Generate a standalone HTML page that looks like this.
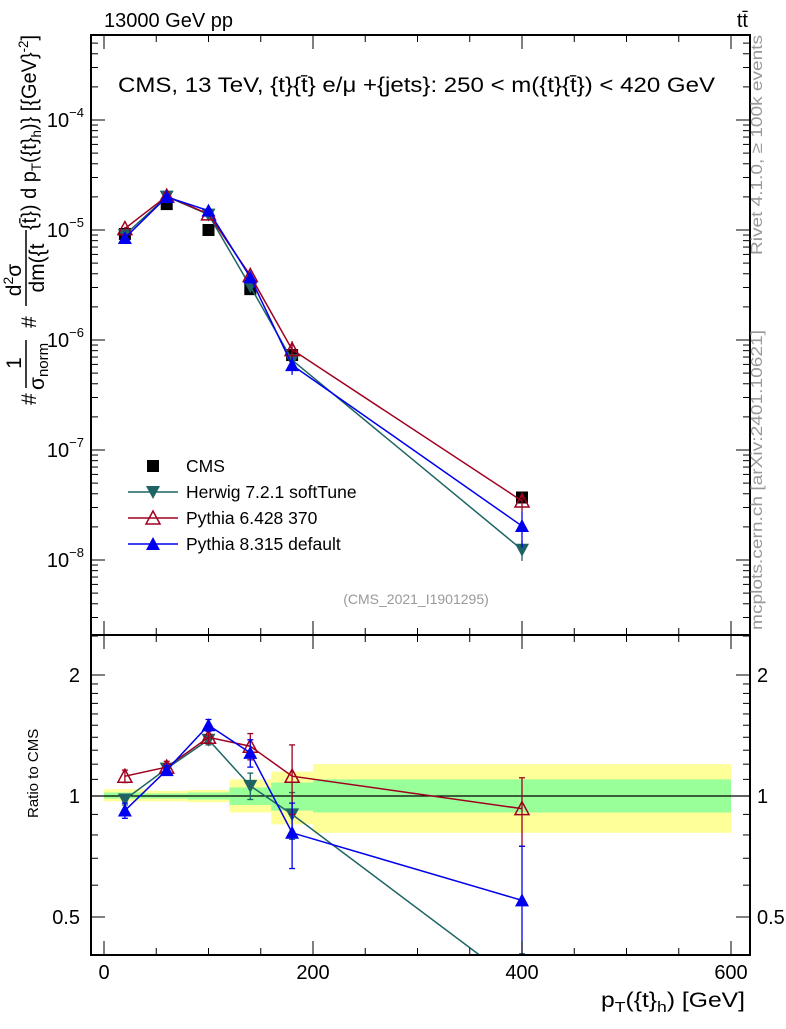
<!DOCTYPE html>
<html><head><meta charset="utf-8"><style>
body{margin:0;background:#fff;}
svg text{font-family:"Liberation Sans",sans-serif;}
</style></head><body>
<svg id="chart" width="786" height="1024" xmlns="http://www.w3.org/2000/svg">
<g id="bands"></g>
<g id="marks"></g>
<g id="axes"></g>
<text x="104" y="27" font-size="20">13000 GeV pp</text>
<text x="748" y="27" font-size="20" text-anchor="end">tt̄</text>
<text x="118" y="92" font-size="21" textLength="597" lengthAdjust="spacingAndGlyphs">CMS, 13 TeV, {t}{t̄} e/μ +{jets}: 250 &lt; m({t}{t̄}) &lt; 420 GeV</text>
<text x="416" y="604" font-size="14" fill="#999" text-anchor="middle">(CMS_2021_I1901295)</text>
<text transform="translate(762,255) rotate(-90)" font-size="16" fill="#999" textLength="220" lengthAdjust="spacingAndGlyphs">Rivet 4.1.0, ≥ 100k events</text>
<text transform="translate(762,630) rotate(-90)" font-size="16" fill="#999" textLength="300" lengthAdjust="spacingAndGlyphs">mcplots.cern.ch [arXiv:2401.10621]</text>
<g transform="rotate(-90)">
<text x="-405" y="36" font-size="21">#</text>
<text x="-363" y="21" font-size="21" text-anchor="middle">1</text>
<line x1="-388" x2="-340" y1="26" y2="26" stroke="#000" stroke-width="1.5"/>
<text x="-390" y="44" font-size="21">σ<tspan font-size="15" dy="4">norm</tspan></text>
<text x="-328" y="36" font-size="21">#</text>
<text x="-280" y="21" font-size="21" text-anchor="middle">d<tspan font-size="14" dy="-8">2</tspan><tspan dy="8">σ</tspan></text>
<line x1="-306" x2="-230" y1="26" y2="26" stroke="#000" stroke-width="1.5"/>
<text x="-268" y="44" font-size="21" text-anchor="middle">dm({t</text>
<text x="-230" y="36" font-size="21" textLength="195" lengthAdjust="spacingAndGlyphs">{t̄}) d p<tspan font-size="14" dy="5">T</tspan><tspan dy="-5">({t}</tspan><tspan font-size="14" dy="5">h</tspan><tspan dy="-5">)} [{GeV}</tspan><tspan font-size="14" dy="-8">-2</tspan><tspan dy="8">]</tspan></text>
</g>
<text transform="translate(38,818) rotate(-90)" font-size="15">Ratio to CMS</text>
<text x="601" y="1007" font-size="21" textLength="144" lengthAdjust="spacingAndGlyphs">p<tspan font-size="15" dy="5">T</tspan><tspan dy="-5">({t}</tspan><tspan font-size="15" dy="5">h</tspan><tspan dy="-5">) [GeV]</tspan></text>
<g id="legend"></g>
</svg>
<script>
const xVals=[20,60,100,140,180,400];
const binLo=[0,40,80,120,160,200];
const binHi=[40,80,120,160,200,600];
const cmsVals=[0.92e-5,1.72e-5,1.0e-5,2.9e-6,7.3e-7,3.7e-8];
const yelLo=[0.97,0.97,0.965,0.91,0.85,0.81];
const yelHi=[1.04,1.03,1.035,1.10,1.15,1.2];
const grnLo=[0.985,0.985,0.98,0.95,0.92,0.91];
const grnHi=[1.02,1.015,1.02,1.05,1.08,1.1];
const herwigRatio=[0.98,1.17,1.38,1.06,0.9,0.335];
const herwigErr=[0.03,0.03,0.04,0.08,0.12,0.07];
const py6Ratio=[1.12,1.18,1.4,1.33,1.12,0.93];
const py6Err=[0.04,0.04,0.05,0.1,0.22,0.18];
const py8Ratio=[0.92,1.16,1.5,1.28,0.81,0.55];
const py8Err=[0.04,0.03,0.05,0.1,0.15,0.2];
const majorX=[0,200,400,600];
const upperTicks=[-8,-7,-6,-5,-4];
const ratioTicks=[0.5,1,2];

const L=91,R=750,T=35,M=635,B=955;
const X=v=>104+v*1.045;
const YU=v=>230-110*Math.log10(v/1e-5);
const YR=r=>796-121*Math.log2(r);
const NS='http://www.w3.org/2000/svg';
function mk(p,tag,at){const e=document.createElementNS(NS,tag);for(const k in at)e.setAttribute(k,at[k]);p.appendChild(e);return e;}
const svg=document.getElementById('chart');
const bands=document.getElementById('bands'),marks=document.getElementById('marks'),axes=document.getElementById('axes'),leg=document.getElementById('legend');

for(let i=0;i<binLo.length;i++){
 const y=mk(bands,'rect',{x:X(binLo[i]),y:YR(yelHi[i]),width:X(binHi[i])-X(binLo[i]),height:YR(yelLo[i])-YR(yelHi[i]),fill:'#ffff99'});
 
 
 const g=mk(bands,'rect',{x:X(binLo[i]),y:YR(grnHi[i]),width:X(binHi[i])-X(binLo[i]),height:YR(grnLo[i])-YR(grnHi[i]),fill:'#99ff99'});
 
 
}
const one=mk(bands,'line',{x1:L,x2:R,y1:YR(1),y2:YR(1),stroke:'#000','stroke-width':1.3});



const defs=mk(svg,'defs',{});
const c1=mk(defs,'clipPath',{id:'cu'});mk(c1,'rect',{x:L,y:T,width:R-L,height:M-T});
const c2=mk(defs,'clipPath',{id:'cl'});mk(c2,'rect',{x:L,y:M,width:R-L,height:B-M});
const gu=mk(marks,'g',{'clip-path':'url(#cu)'}),gl=mk(marks,'g',{'clip-path':'url(#cl)'});

function marker(p,type,x,y,col){
 let e;
 if(type==='sq') e=mk(p,'rect',{x:x-6,y:y-6,width:12,height:12,fill:col});
 else if(type==='dn') e=mk(p,'polygon',{points:`${x-7},${y-6} ${x+7},${y-6} ${x},${y+7}`,fill:col});
 else if(type==='up') e=mk(p,'polygon',{points:`${x-7},${y+6} ${x+7},${y+6} ${x},${y-7}`,fill:col});
 else e=mk(p,'polygon',{points:`${x-7},${y+6} ${x+7},${y+6} ${x},${y-7}`,fill:'none',stroke:col,'stroke-width':1.5});
 return e;
}
function series(name,ratio,err,col,type){
 const pu=[],pl=[];
 for(let i=0;i<xVals.length;i++){
  const v=ratio[i]*cmsVals[i];
  pu.push(X(xVals[i])+','+YU(v));pl.push(X(xVals[i])+','+YR(ratio[i]));
 }
 const lu=mk(gu,'polyline',{points:pu.join(' '),fill:'none',stroke:col,'stroke-width':1.5});
 
 
 const ll=mk(gl,'polyline',{points:pl.join(' '),fill:'none',stroke:col,'stroke-width':1.5});
 
 
 for(let i=0;i<xVals.length;i++){
  const x=X(xVals[i]);
  const v=ratio[i]*cmsVals[i],e=err[i];
  const yu1=YU(v*(1+e/ratio[i])),yu2=YU(v*Math.max(0.05,1-e/ratio[i]));
  mk(gu,'line',{x1:x,x2:x,y1:yu1,y2:yu2,stroke:col,'stroke-width':1.3});
  const yl1=YR(ratio[i]+e),yl2=YR(Math.max(0.05,ratio[i]-e));
  mk(gl,'line',{x1:x,x2:x,y1:yl1,y2:yl2,stroke:col,'stroke-width':1.3});
  mk(gl,'line',{x1:x-3,x2:x+3,y1:yl1,y2:yl1,stroke:col,'stroke-width':1.3});
  mk(gl,'line',{x1:x-3,x2:x+3,y1:yl2,y2:yl2,stroke:col,'stroke-width':1.3});
  const m1=marker(gu,type,x,YU(v),col);
  
  
  const m2=marker(gl,type,x,YR(ratio[i]),col);
  
  
 }
}
for(let i=0;i<xVals.length;i++){
 const m=marker(gu,'sq',X(xVals[i]),YU(cmsVals[i]),'#000');
 
 
}
series('herwig',herwigRatio,herwigErr,'#1f6464','dn');
series('pythia6',py6Ratio,py6Err,'#a00020','op');
series('pythia8',py8Ratio,py8Err,'#0000ee','up');

[[T,M],[M,B]].forEach(([a,b])=>mk(axes,'rect',{x:L,y:a,width:R-L,height:b-a,fill:'none',stroke:'#000','stroke-width':2}));
for(let v=0;v<=600;v+=50){
 const x=X(v),maj=v%200===0;const len=maj?14:7;
 [[T,1],[M,-1],[M,1],[B,-1]].forEach(([y,d])=>mk(axes,'line',{x1:x,x2:x,y1:y,y2:y+d*len,stroke:'#000','stroke-width':1}));
}
majorX.forEach(v=>{const t=mk(axes,'text',{x:X(v),y:979,'font-size':20,'text-anchor':'middle'});t.textContent=v;
 
 });
for(let d=-9;d<=-4;d++){
 for(let k=1;k<10;k++){
  const y=YU(k*Math.pow(10,d));if(y<T||y>M)continue;
  const len=k===1?14:7;
  mk(axes,'line',{x1:L,x2:L+len,y1:y,y2:y,stroke:'#000'});
  mk(axes,'line',{x1:R,x2:R-len,y1:y,y2:y,stroke:'#000'});
 }
}
upperTicks.forEach(d=>{const t=mk(axes,'text',{x:84,y:YU(Math.pow(10,d))+7,'font-size':20,'text-anchor':'end'});
 t.innerHTML='10<tspan font-size="13" dy="-10">'+(d<0?'−':'')+Math.abs(d)+'</tspan>';
 
 });
[0.4,0.5,0.6,0.7,0.8,0.9,1,1.1,1.2,1.3,1.4,1.5,1.6,1.7,1.8,1.9,2,2.5].forEach(r=>{
 const y=YR(r);if(y<M||y>B)return;const maj=ratioTicks.includes(r);const len=maj?14:7;
 mk(axes,'line',{x1:L,x2:L+len,y1:y,y2:y,stroke:'#000'});
 mk(axes,'line',{x1:R,x2:R-len,y1:y,y2:y,stroke:'#000'});
});
ratioTicks.forEach(r=>{
 const t=mk(axes,'text',{x:80,y:YR(r)+7,'font-size':20,'text-anchor':'end'});t.textContent=r;
 
 
 const t2=mk(axes,'text',{x:757,y:YR(r)+7,'font-size':20});t2.textContent=r;
 
 
});
const legNames=['CMS','Herwig 7.2.1 softTune','Pythia 6.428 370','Pythia 8.315 default'];
const legCols=['#000','#1f6464','#a00020','#0000ee'];
const legTypes=['sq','dn','op','up'];
legNames.forEach((n,i)=>{
 const y=466+i*26;
 if(i>0) mk(leg,'line',{x1:128,x2:178,y1:y,y2:y,stroke:legCols[i],'stroke-width':1.5});
 marker(leg,legTypes[i],153,y,legCols[i]);
 const t=mk(leg,'text',{x:186,y:y+6,'font-size':17.5});t.textContent=n;
 
 
});
</script>
</body></html>
